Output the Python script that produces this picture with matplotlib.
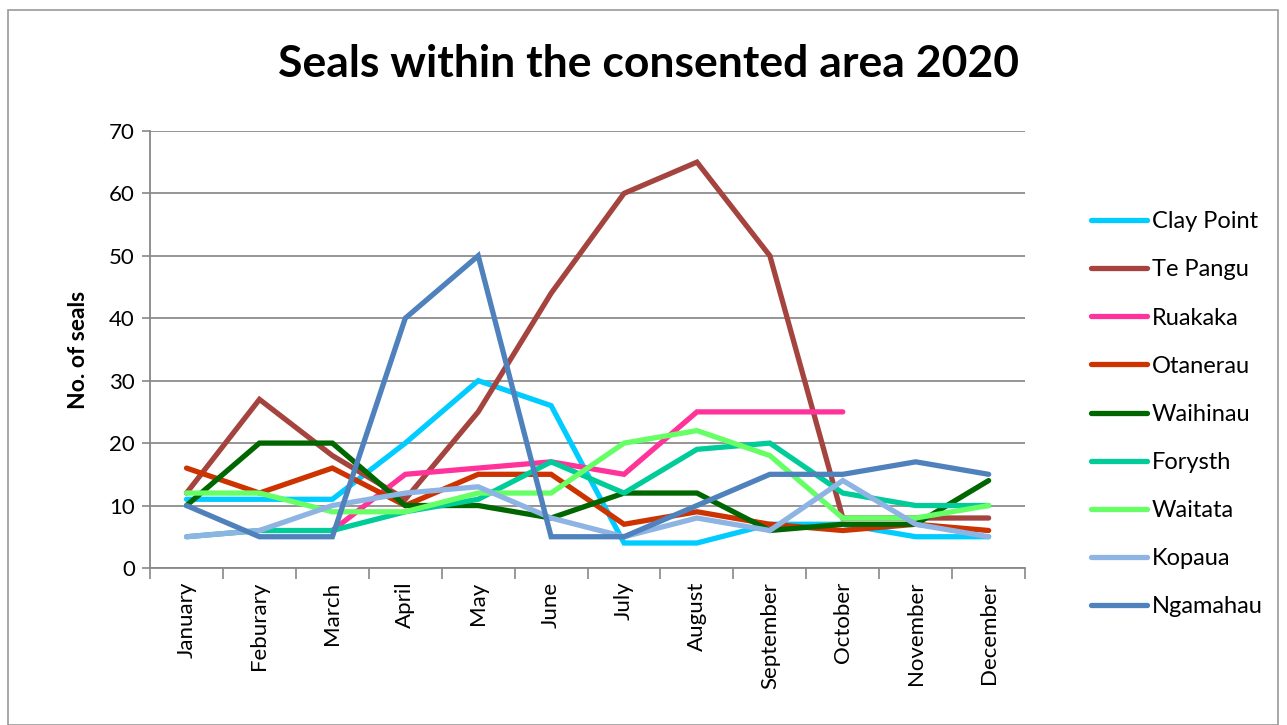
import matplotlib.pyplot as plt
import numpy as np
from matplotlib.patches import Rectangle

plt.rcParams['font.family'] = ['Lato', 'DejaVu Sans']

months = ["January", "Feburary", "March", "April", "May", "June", "July",
          "August", "September", "October", "November", "December"]
nan = np.nan

clay_point = [11, 11, 11, 20, 30, 26, 4, 4, 7, 7, 5, 5]
te_pangu = [12, 27, 18, 11, 25, 44, 60, 65, 50, 8, 8, 8]
ruakaka = [nan, nan, 6, 15, 16, 17, 15, 25, 25, 25, nan, nan]
otanerau = [16, 12, 16, 10, 15, 15, 7, 9, 7, 6, 7, 6]
waihinau = [10, 20, 20, 10, 10, 8, 12, 12, 6, 7, 7, 14]
forysth = [5, 6, 6, 9, 11, 17, 12, 19, 20, 12, 10, 10]
waitata = [12, 12, 9, 9, 12, 12, 20, 22, 18, 8, 8, 10]
kopaua = [5, 6, 10, 12, 13, 8, 5, 8, 6, 14, 7, 5]
ngamahau = [10, 5, 5, 40, 50, 5, 5, 10, 15, 15, 17, 15]

series = [("Clay Point", clay_point, "#00CCFF"),
          ("Te Pangu", te_pangu, "#A5443F"),
          ("Ruakaka", ruakaka, "#FF3399"),
          ("Otanerau", otanerau, "#CC3300"),
          ("Waihinau", waihinau, "#006600"),
          ("Forysth", forysth, "#00CC99"),
          ("Waitata", waitata, "#66FF66"),
          ("Kopaua", kopaua, "#8EB4E3"),
          ("Ngamahau", ngamahau, "#4F81BD")]

fig = plt.figure(figsize=(12.87, 7.25), dpi=100)
ax = fig.add_axes([0.1166, 0.2166, 0.6799, 0.6028])

x = np.arange(len(months))
for name, vals, col in series:
    ax.plot(x, vals, color=col, lw=3.8, label=name,
            solid_capstyle='round', solid_joinstyle='miter')

ax.set_xlim(-0.5, 11.5)
ax.set_ylim(0, 70)
ax.set_yticks(range(0, 71, 10))
ax.set_xticks(x)
ax.set_xticklabels(months, rotation=90, fontsize=16)
ax.set_xticks(np.arange(-0.5, 12, 1), minor=True)
ax.tick_params(axis='x', which='major', length=0, pad=10)
ax.tick_params(axis='x', which='minor', length=8, width=1.2, color='#888888')
ax.tick_params(axis='y', labelsize=16, length=6, width=1.2, color='#888888', pad=5)
ax.grid(axis='y', color='#8c8c8c', lw=1.3)
ax.set_axisbelow(True)
for s in ['top', 'right']:
    ax.spines[s].set_visible(False)
for s in ['left', 'bottom']:
    ax.spines[s].set_color('#888888')
    ax.spines[s].set_linewidth(1.3)

ax.set_ylabel("No. of seals", fontsize=16.5, fontweight='bold', labelpad=14)
fig.text(0.504, 0.912, "Seals within the consented area 2020", ha='center',
         va='center', fontsize=32, fontweight='bold')

fig.legend(loc='upper left', bbox_to_anchor=(0.831, 0.738), frameon=False,
           fontsize=17, handlelength=2.4, labelspacing=1.15, handletextpad=0.2)

fig.patches.append(Rectangle((0.006, 0.0), 0.987, 0.986, transform=fig.transFigure,
                             fill=False, edgecolor='#999999', lw=1.2))

fig.savefig("out.png", dpi=100)
